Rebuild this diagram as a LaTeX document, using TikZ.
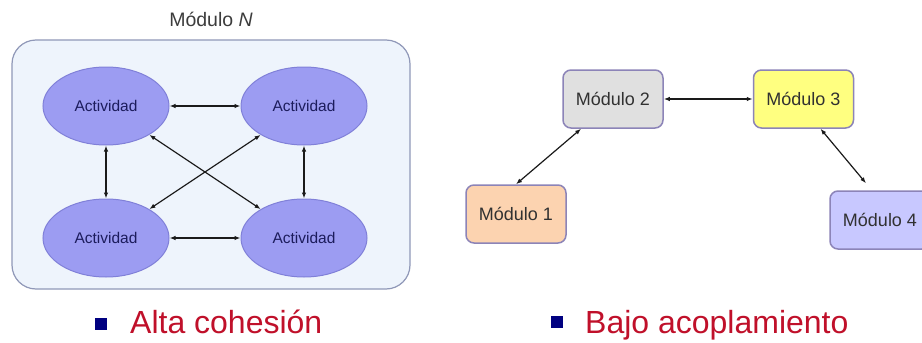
\documentclass[tikz,border=0pt]{standalone}
\usepackage{fontspec}
\setmainfont{Liberation Sans}
\usepackage{xcolor}
\usepackage{tikz}
\usetikzlibrary{arrows.meta,positioning,shapes.geometric}
\definecolor{ink}{HTML}{1A1A1A}
\definecolor{navy}{HTML}{1C1C5C}
\definecolor{frame}{HTML}{9098B8}
\definecolor{panel}{HTML}{EEF4FC}
\definecolor{lilac}{HTML}{9C9CF2}
\definecolor{lilacd}{HTML}{8080D8}
\definecolor{modline}{HTML}{8C84B8}
\definecolor{greyf}{HTML}{E0E0E0}
\definecolor{yellowf}{HTML}{FFFF80}
\definecolor{peachf}{HTML}{FCD3B0}
\definecolor{lavf}{HTML}{C8C8FF}
\definecolor{redt}{HTML}{C0102A}
\definecolor{bullet}{HTML}{000080}
\tikzset{
  group/.style={draw=frame,line width=1.2pt,rounded corners=24pt,fill=panel,inner sep=0pt},
  act/.style={ellipse,draw=lilacd,line width=1pt,fill=lilac,inner sep=0pt,minimum width=126pt,minimum height=78pt,text=navy,font=\fontsize{15.5}{18}\selectfont},
  modbox/.style={draw=modline,line width=1.5pt,rounded corners=8pt,inner sep=0pt,minimum width=100pt,minimum height=58pt,text=ink!90,font=\fontsize{18}{21}\selectfont},
  link/.style={{Latex[length=6pt,width=4.5pt]}-{Latex[length=6pt,width=4.5pt]},line width=1.2pt,draw=ink},
  heading/.style={text=ink!85,font=\fontsize{19.5}{22}\selectfont},
  sq/.style={fill=bullet,inner sep=0pt,minimum size=12pt},
  point/.style={text=redt,font=\fontsize{32}{36}\selectfont,inner sep=0pt,anchor=base west}
}
\begin{document}
\begin{tikzpicture}[x=1pt,y=-1pt]
  \clip (0,0) rectangle (922,343);
  \fill[white] (0,0) rectangle (922,343);
  \node[group,minimum width=398pt,minimum height=249pt] (modn) at (211,164.5) {};
  \node[heading,above=9pt of modn] (title) {Módulo \textit{N}};
  \node[act] (a1) at (106,106) {Actividad};
  \node[act,right=71pt of a1] (a2) {Actividad};
  \node[act,below=53pt of a1] (a3) {Actividad};
  \node[act,below=53pt of a2] (a4) {Actividad};
  \draw[link] (a1) -- (a2); \draw[link] (a3) -- (a4);
  \draw[link] (a1) -- (a3); \draw[link] (a2) -- (a4);
  \draw[link] (a1) -- (a4); \draw[link] (a2) -- (a3);
  \node[modbox,fill=greyf] (m2) at (613,99) {Módulo 2};
  \node[modbox,fill=yellowf,right=89pt of m2] (m3) {Módulo 3};
  \node[modbox,fill=peachf] (m1) at (516,214) {Módulo 1};
  \node[modbox,fill=lavf] (m4) at (880,220) {Módulo 4};
  \draw[link] (m2) -- (m3);
  \draw[link] (m1.north) -- (m2.223);
  \draw[link] ([xshift=17pt]m3.south) -- ([xshift=-14pt,yshift=7pt]m4.north);
  \node[sq] (b1) at (100.5,324) {};
  \node[point] (t1) at (130,333) {Alta cohesión};
  \node[sq] (b2) at (557,322) {};
  \node[point] (t2) at (585,333) {Bajo acoplamiento};
\end{tikzpicture}
\end{document}
